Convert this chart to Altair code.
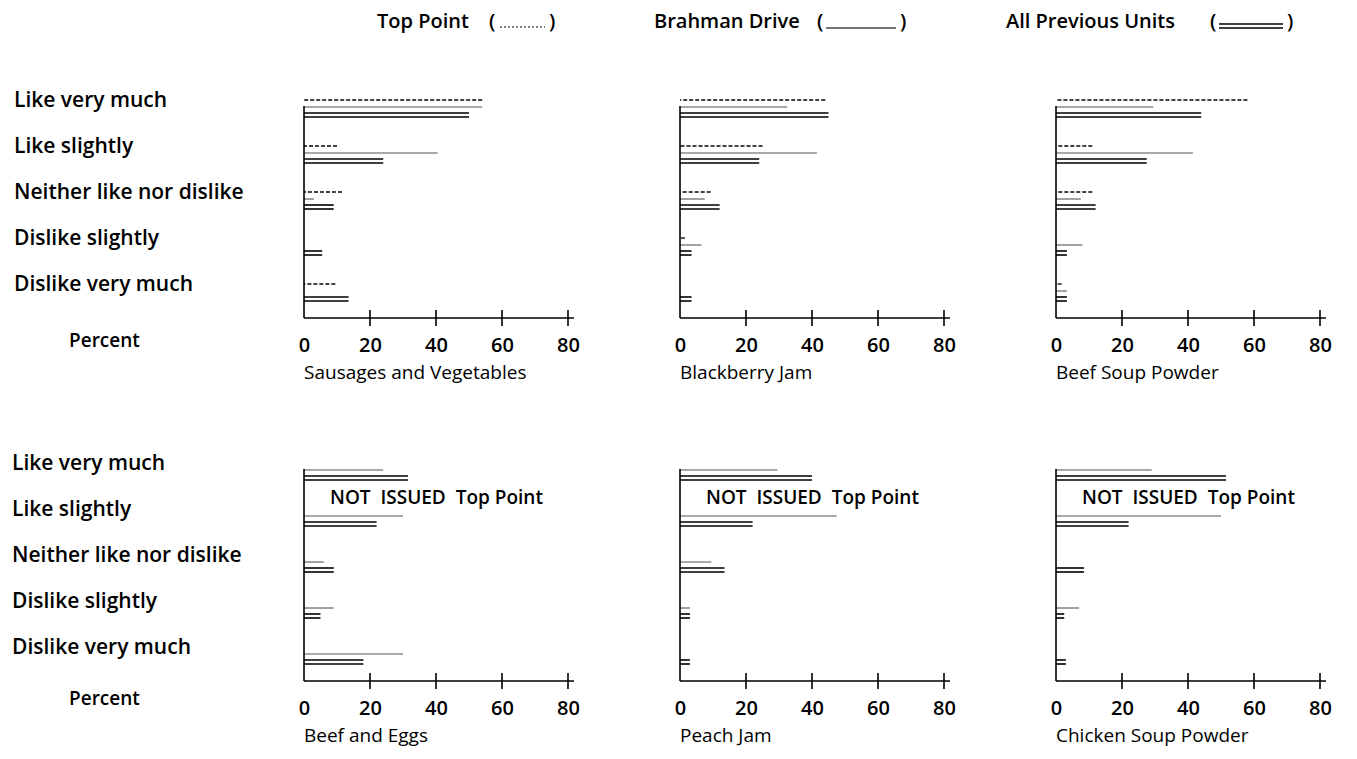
import altair as alt
import pandas as pd

FONT = "Open Sans"

categories = ["Like very much", "Like slightly", "Neither like nor dislike",
              "Dislike slightly", "Dislike very much"]
series_names = ["Top Point", "Brahman Drive", "All Previous Units"]
row1_panels = ["Sausages and Vegetables", "Blackberry Jam", "Beef Soup Powder"]
row2_panels = ["Beef and Eggs", "Peach Jam", "Chicken Soup Powder"]
tick_values = [0, 20, 40, 60, 80]
not_issued_note = "NOT\u00a0\u00a0ISSUED\u00a0\u00a0Top\u00a0Point"

# percent values per panel, in category order
top_point = {
    "Sausages and Vegetables": [54, 10, 11.5, 0, 9.5],
    "Blackberry Jam": [44, 25, 9.3, 1.5, 0],
    "Beef Soup Powder": [58, 11, 11, 0, 1.7],
}
brahman_drive = {
    "Sausages and Vegetables": [54, 40.5, 3, 0, 0],
    "Blackberry Jam": [32.5, 41.5, 7.5, 6.5, 0],
    "Beef Soup Powder": [29.5, 41.5, 7.5, 8, 3.3],
    "Beef and Eggs": [24, 30, 6, 9, 30],
    "Peach Jam": [29.5, 47.5, 9.5, 3, 0],
    "Chicken Soup Powder": [29, 50, 0, 7, 0],
}
all_previous = {
    "Sausages and Vegetables": [50, 24, 9, 5.5, 13.5],
    "Blackberry Jam": [45, 24, 12, 3.5, 3.5],
    "Beef Soup Powder": [44, 27.5, 12, 3.3, 3.3],
    "Beef and Eggs": [31.5, 22, 9, 5, 18],
    "Peach Jam": [40, 22, 13.5, 3, 3],
    "Chicken Soup Powder": [51.5, 22, 8.5, 2.5, 3],
}

W = 264
H = 230
xs = alt.Scale(domain=[0, 80], nice=False, zero=True)
ys = alt.Scale(domain=categories, paddingInner=0, paddingOuter=0)
x_axis = alt.Axis(values=tick_values, domain=False, ticks=False, grid=False, title=None,
                  labelFlush=False, labelFontSize=20, labelFontWeight=600,
                  labelPadding=17, labelColor="black", labelFont=FONT)


def xenc(field):
    return alt.X(f"{field}:Q", scale=xs, axis=x_axis)


def yenc():
    return alt.Y("cat:N", scale=ys, axis=None, sort=categories)


one = pd.DataFrame({"a": [0]})


def txt(s, x, y, size=19, weight=600):
    return alt.Chart(pd.DataFrame({"s": [s]})).mark_text(
        align="left", baseline="middle", fontSize=size, fontWeight=weight, font=FONT,
        color="black").encode(x=alt.value(x), y=alt.value(y), text="s:N")


def hline(x1, x2, y, color="black", width=1.4, dash=None):
    kw = dict(color=color, strokeWidth=width)
    if dash:
        kw["strokeDash"] = dash
    return alt.Chart(one).mark_rule(**kw).encode(
        x=alt.value(x1), x2=alt.value(x2), y=alt.value(y))


def panel(name, with_tp):
    d = {"cat": categories,
         "bd": brahman_drive[name],
         "apu": all_previous[name]}
    if with_tp:
        d["tp"] = top_point[name]
    df = pd.DataFrame(d)
    base = alt.Chart(df)
    layers = []
    for off in (2, 6):
        layers.append(base.mark_rule(color="black", strokeWidth=1.6, yOffset=off)
                      .encode(x=xenc("apu"), x2=alt.datum(0), y=yenc()))
    layers.append(base.mark_rule(color="#555555", strokeWidth=1.1, yOffset=-4)
                  .encode(x=xenc("bd"), x2=alt.datum(0), y=yenc()))
    if with_tp:
        layers.append(base.mark_rule(color="#444444", strokeWidth=1.8, strokeDash=[4, 2], yOffset=-11)
                      .encode(x=xenc("tp"), x2=alt.datum(0), y=yenc()))
    # axis lines and cross ticks
    layers.append(alt.Chart(one).mark_rule(color="black", strokeWidth=1.6)
                  .encode(x=alt.value(0), y=alt.value(18), y2=alt.value(H)))
    layers.append(hline(0, W + 6, H, width=1.6))
    layers.append(alt.Chart(pd.DataFrame({"t": tick_values[1:]}))
                  .mark_rule(color="black", strokeWidth=1.6)
                  .encode(x=xenc("t"), y=alt.value(H - 8), y2=alt.value(H + 8)))
    layers.append(alt.Chart(pd.DataFrame({"name": [name]}))
                  .mark_text(align="left", baseline="middle", fontSize=19, font=FONT, color="black")
                  .encode(x=alt.value(0), y=alt.value(H + 55), text="name:N"))
    if not with_tp:
        layers.append(txt(not_issued_note, 26, 47, size=19, weight=600))
    return alt.layer(*layers).properties(width=W, height=H)


def label_column(xpos, percent_y, header=False):
    lab = alt.Chart(pd.DataFrame({"cat": categories})).mark_text(
        align="left", baseline="middle", fontSize=21, fontWeight=600, font=FONT,
        color="black", dy=-10).encode(x=alt.value(xpos), y=yenc(), text="cat:N")
    layers = [lab, txt("Percent", 60, percent_y, size=19)]
    if header:
        hy = -66
        layers += [
            txt(series_names[0], 368, hy, size=20), txt("(", 480, hy, size=20),
            hline(491, 536, hy + 5, color="#555555", width=1.5, dash=[2, 2]),
            txt(")", 540, hy, size=20),
            txt(series_names[1], 645, hy, size=20), txt("(", 808, hy, size=20),
            hline(817, 887, hy + 6, color="#444444", width=1.3),
            txt(")", 891, hy, size=20),
            txt(series_names[2], 997, hy, size=20), txt("(", 1201, hy, size=20),
            hline(1210, 1274, hy + 2, width=1.4),
            hline(1210, 1274, hy + 6, width=1.4),
            txt(")", 1278, hy, size=20),
        ]
    return alt.layer(*layers).properties(width=183, height=H)


cells = ([label_column(5, 253, header=True)] + [panel(n, True) for n in row1_panels]
         + [label_column(3, 248)] + [panel(n, False) for n in row2_panels])

chart = alt.concat(*cells, columns=4, spacing={"row": 133, "column": 112},
                   bounds="flush", align="each").properties(
    padding={"left": 1, "top": 4, "right": 4, "bottom": 8}, background="white"
).configure(font=FONT).configure_view(stroke=None, strokeWidth=0)

chart.save("out.html", embed_options={"renderer": "svg", "actions": False})
